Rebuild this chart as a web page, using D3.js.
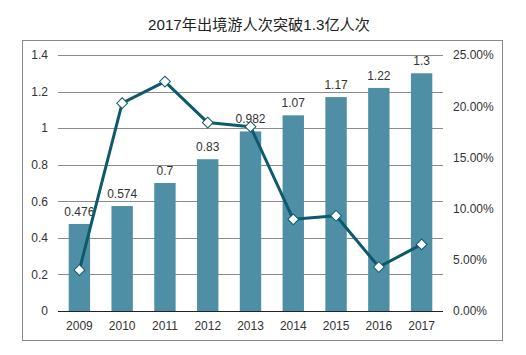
<!DOCTYPE html>
<html><head><meta charset="utf-8">
<script src="https://cdn.jsdelivr.net/npm/d3@7/dist/d3.min.js"></script>
<style>
body{margin:0;background:#fff;}
text{font-family:"Liberation Sans",Arial,"Noto Sans CJK SC",sans-serif;}
</style></head>
<body><svg id="c" width="526" height="355"></svg>
<script>
const years = ["2009","2010","2011","2012","2013","2014","2015","2016","2017"];
const travelers = [0.476,0.574,0.7,0.83,0.982,1.07,1.17,1.22,1.3];
const growth = [0.040,0.203,0.224,0.184,0.180,0.0895,0.093,0.043,0.065];
const leftTicks = [0,0.2,0.4,0.6,0.8,1,1.2,1.4];
const rightTicks = [0,0.05,0.10,0.15,0.20,0.25];
const title = "2017年出境游人次突破1.3亿人次";

const svg = d3.select("#c");
const L=58, R=443, T=55, B=311;
const x = d3.scaleBand().domain(years).range([L,R]).paddingInner(0.5).paddingOuter(0.25);
const yL = d3.scaleLinear().domain([0,1.4]).range([B,T]);
const yR = d3.scaleLinear().domain([0,0.25]).range([B,T]);

svg.append("rect").attr("x",22.5).attr("y",40.5).attr("width",480).attr("height",300)
  .attr("fill","none").attr("stroke","#8a8a8a").attr("stroke-width",1);

svg.append("text").attr("x",259).attr("y",30).attr("text-anchor","middle")
  .attr("font-size",15.2).attr("fill","#222").text(title);

// grid lines
svg.append("g").selectAll("line").data(leftTicks.filter(d=>d>0)).join("line")
  .attr("x1",L).attr("x2",R).attr("y1",d=>Math.round(yL(d))+0.5).attr("y2",d=>Math.round(yL(d))+0.5)
  .attr("stroke","#8c8c8c").attr("stroke-width",1);

// left axis labels
const gl = svg.append("g").attr("transform",`translate(${L},0)`)
  .call(d3.axisLeft(yL).tickValues(leftTicks).tickFormat(d3.format("~g")).tickSize(0).tickPadding(10));
gl.select(".domain").remove();
gl.selectAll("text").attr("font-size",12).attr("fill","#333").style("font-family","'Liberation Sans',Arial,sans-serif");

// right axis labels
const gr = svg.append("g").attr("transform",`translate(${R},0)`)
  .call(d3.axisRight(yR).tickValues(rightTicks).tickFormat(d3.format(".2%")).tickSize(0).tickPadding(10));
gr.select(".domain").remove();
gr.selectAll("text").attr("font-size",12).attr("fill","#333").style("font-family","'Liberation Sans',Arial,sans-serif");

// bars
svg.append("g").selectAll("rect").data(travelers).join("rect")
  .attr("x",(d,i)=>x(years[i])).attr("width",x.bandwidth())
  .attr("y",d=>yL(d)).attr("height",d=>B-yL(d)).attr("fill","#4e8fa6");

// bar labels
svg.append("g").selectAll("text").data(travelers).join("text")
  .attr("x",(d,i)=>x(years[i])+x.bandwidth()/2).attr("y",d=>yL(d)-8)
  .attr("text-anchor","middle").attr("font-size",12).attr("fill","#333").text(d=>d);

// baseline
svg.append("line").attr("x1",L).attr("x2",R).attr("y1",B+0.5).attr("y2",B+0.5).attr("stroke","#222");

// x axis
const gx = svg.append("g").attr("transform",`translate(0,${B})`)
  .call(d3.axisBottom(x).tickSize(0).tickPadding(10));
gx.select(".domain").remove();
gx.selectAll("text").attr("font-size",12).attr("fill","#333").style("font-family","'Liberation Sans',Arial,sans-serif");

// line
const line = d3.line().x((d,i)=>x(years[i])+x.bandwidth()/2).y(d=>yR(d));
svg.append("path").datum(growth).attr("d",line).attr("fill","none")
  .attr("stroke","#0e5a6c").attr("stroke-width",3).attr("stroke-linejoin","round");

svg.append("g").selectAll("path").data(growth).join("path")
  .attr("transform",(d,i)=>`translate(${x(years[i])+x.bandwidth()/2},${yR(d)}) rotate(45)`)
  .attr("d",d3.symbol().type(d3.symbolSquare).size(58))
  .attr("fill","#fff").attr("stroke","#0e5a6c").attr("stroke-width",1);
</script></body></html>
